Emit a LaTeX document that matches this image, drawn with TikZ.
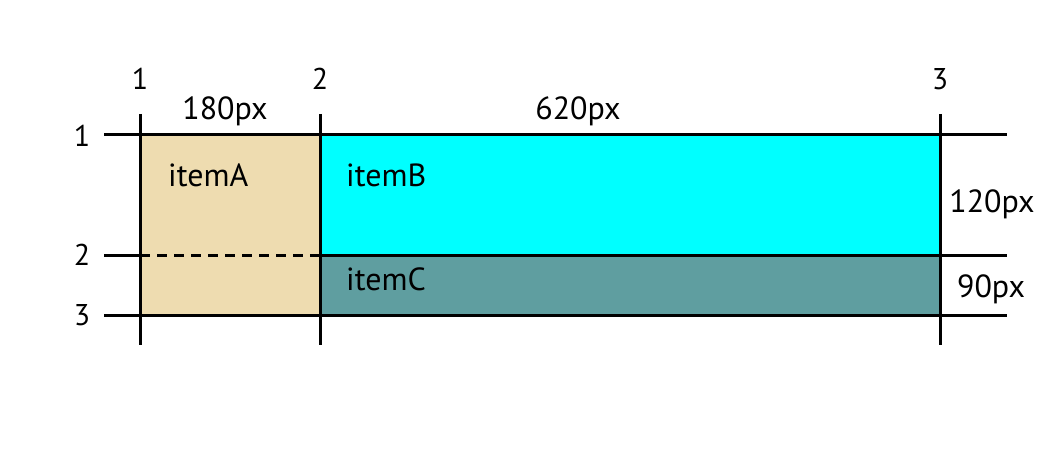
\documentclass[tikz,border=0pt]{standalone}
\usepackage{fontspec}
\setmainfont{PT Sans}
\definecolor{wheatc}{HTML}{EEDCB0}
\definecolor{cadet}{HTML}{5F9EA0}
\definecolor{cyanc}{HTML}{00FFFF}
\begin{document}
\begin{tikzpicture}[x=1pt,y=-1pt,
  gridline/.style={line width=3pt,black},
  axisnum/.style={font=\fontsize{30}{30}\selectfont,anchor=base,inner sep=0pt},
  dimlabel/.style={font=\fontsize{32}{32}\selectfont,anchor=base,inner sep=0pt},
  itemlabel/.style={font=\fontsize{32}{32}\selectfont,anchor=base west,inner sep=0pt}]
\useasboundingbox (0,0) rectangle (1064,462);
% areas
\fill[wheatc] (140,135) rectangle (320,315);
\fill[cyanc] (320,135) rectangle (940,255);
\fill[cadet] (320,255) rectangle (940,315);
% grid lines
\draw[gridline] (140,114) -- (140,345);
\draw[gridline] (320,114) -- (320,345);
\draw[gridline] (940,114) -- (940,345);
\draw[gridline] (104,135) -- (1007,135);
\draw[gridline] (104,255) -- (140,255);
\draw[gridline,dash pattern=on 10pt off 7pt] (140,255) -- (320,255);
\draw[gridline] (320,255) -- (1007,255);
\draw[gridline] (104,315) -- (1007,315);
% column numbers
\node[axisnum] (c1) at (140,90) {1};
\node[axisnum] (c2) at (320,90) {2};
\node[axisnum] (c3) at (940,90) {3};
% row numbers
\node[axisnum] (r1) at (82,147) {1};
\node[axisnum] (r2) at (82,265) {2};
\node[axisnum] (r3) at (82,325) {3};
% dimensions
\node[dimlabel] (w1) at (225,120) {180px};
\node[dimlabel] (w2) at (578,120) {620px};
\node[dimlabel] (h1) at (992,213) {120px};
\node[dimlabel] (h2) at (991,297) {90px};
% items
\node[itemlabel] (ia) at (168,187) {itemA};
\node[itemlabel] (ib) at (346,187) {itemB};
\node[itemlabel] (ic) at (346,290) {itemC};
\end{tikzpicture}
\end{document}
